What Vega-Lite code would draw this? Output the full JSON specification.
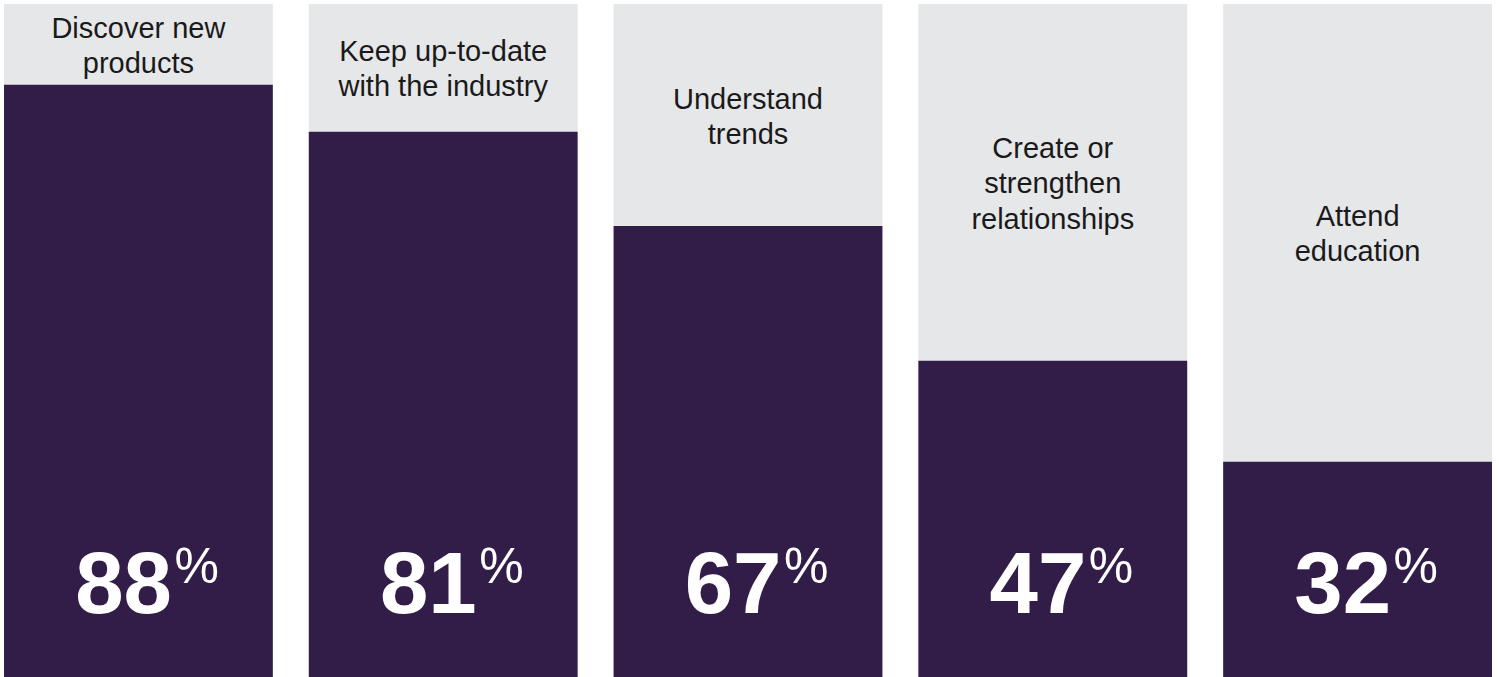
{
  "$schema": "https://vega.github.io/schema/vega-lite/v6.json",
  "autosize": {"type": "none"},
  "padding": {"top": 4, "left": 0, "right": 0, "bottom": 0},
  "width": 1499,
  "height": 673,
  "background": "#ffffff",
  "config": {"view": {"stroke": null}},
  "data": {
    "values": [
      {"category": "Discover new\nproducts", "value": 88},
      {"category": "Keep up-to-date\nwith the industry", "value": 81},
      {"category": "Understand\ntrends", "value": 67},
      {"category": "Create or\nstrengthen\nrelationships", "value": 47},
      {"category": "Attend\neducation", "value": 32}
    ]
  },
  "encoding": {
    "x": {
      "field": "category",
      "type": "nominal",
      "sort": null,
      "axis": null,
      "scale": {"range": [4, 1492], "paddingInner": 0.118, "paddingOuter": 0}
    }
  },
  "layer": [
    {
      "mark": {"type": "bar", "color": "#e6e7e9"},
      "encoding": {
        "y": {"datum": 100, "type": "quantitative", "axis": null, "scale": {"domain": [0, 100]}}
      }
    },
    {
      "mark": {"type": "bar", "color": "#321c48"},
      "encoding": {
        "y": {"field": "value", "type": "quantitative", "axis": null, "scale": {"domain": [0, 100]}}
      }
    },
    {
      "mark": {"type": "text", "color": "#ffffff", "font": "Liberation Sans", "fontWeight": "bold", "fontSize": 87, "align": "right", "baseline": "alphabetic", "dx": 33.5},
      "encoding": {
        "y": {"datum": 9.5, "type": "quantitative", "axis": null, "scale": {"domain": [0, 100]}},
        "text": {"field": "value", "type": "quantitative"}
      }
    },
    {
      "mark": {"type": "text", "color": "#ffffff", "font": "Liberation Sans", "fontWeight": "normal", "fontSize": 50, "align": "left", "baseline": "alphabetic", "dx": 36, "text": "%"},
      "encoding": {
        "y": {"datum": 14, "type": "quantitative", "axis": null, "scale": {"domain": [0, 100]}}
      }
    },
    {
      "transform": [{"filter": "length(split(datum.category, '\\n')) == 2"}],
      "mark": {"type": "text", "color": "#1a1a1a", "font": "Liberation Sans", "fontSize": 29, "lineHeight": 35, "align": "center", "baseline": "middle", "lineBreak": "\n", "dy": -15.5},
      "encoding": {
        "y": {"field": "value", "type": "quantitative", "axis": null, "scale": {"domain": [-100, 100]}},
        "text": {"field": "category", "type": "nominal"}
      }
    },
    {
      "transform": [{"filter": "length(split(datum.category, '\\n')) == 3"}],
      "mark": {"type": "text", "color": "#1a1a1a", "font": "Liberation Sans", "fontSize": 29, "lineHeight": 35.5, "align": "center", "baseline": "middle", "lineBreak": "\n", "dy": -33.5},
      "encoding": {
        "y": {"field": "value", "type": "quantitative", "axis": null, "scale": {"domain": [-100, 100]}},
        "text": {"field": "category", "type": "nominal"}
      }
    }
  ],
  "resolve": {"scale": {"y": "independent"}}
}
